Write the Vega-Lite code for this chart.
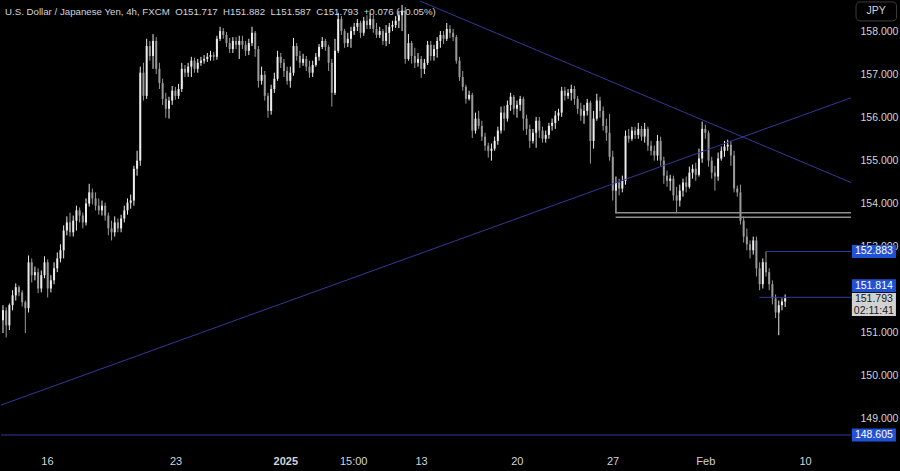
{
"$schema": "https://vega.github.io/schema/vega-lite/v6.json",
"width": 900, "height": 471,
"autosize": {"type": "fit", "contains": "padding"},
"padding": 0,
"background": "#000000",
"config": {"view": {"stroke": null}, "font": "Liberation Sans", "scale": {"continuousPadding": 0}},
"title": {"text": "U.S. Dollar / Japanese Yen, 4h, FXCM\u00a0\u00a0O151.717\u00a0\u00a0H151.882\u00a0\u00a0L151.587\u00a0\u00a0C151.793\u00a0\u00a0+0.076 (+0.05%)", "anchor": "start", "frame": "group", "orient": "top", "offset": -16, "dx": 4, "fontSize": 9.7, "fontWeight": "normal", "color": "#d1d4dc", "font": "Liberation Sans"},
"datasets": {
"candles": [
{"i":0,"o":151.28,"h":151.63,"l":150.98,"c":151.51},
{"i":1,"o":151.51,"h":151.58,"l":150.88,"c":151.16},
{"i":2,"o":151.16,"h":151.67,"l":151.05,"c":151.63},
{"i":3,"o":151.63,"h":151.98,"l":151.51,"c":151.86},
{"i":4,"o":151.86,"h":152.14,"l":151.74,"c":152.05},
{"i":5,"o":152.05,"h":152.09,"l":151.84,"c":151.93},
{"i":6,"o":151.93,"h":151.98,"l":151.60,"c":151.70},
{"i":7,"o":151.70,"h":151.74,"l":150.98,"c":151.56},
{"i":8,"o":151.56,"h":152.79,"l":151.46,"c":152.63},
{"i":9,"o":152.63,"h":152.72,"l":152.16,"c":152.33},
{"i":10,"o":152.33,"h":152.53,"l":152.21,"c":152.40},
{"i":11,"o":152.40,"h":152.49,"l":151.91,"c":152.02},
{"i":12,"o":152.02,"h":152.44,"l":151.93,"c":152.33},
{"i":13,"o":152.33,"h":152.77,"l":152.26,"c":152.63},
{"i":14,"o":152.63,"h":152.70,"l":151.81,"c":152.02},
{"i":15,"o":152.02,"h":152.33,"l":151.93,"c":152.21},
{"i":16,"o":152.21,"h":152.63,"l":152.12,"c":152.49},
{"i":17,"o":152.49,"h":152.86,"l":152.40,"c":152.72},
{"i":18,"o":152.72,"h":153.05,"l":152.63,"c":152.91},
{"i":19,"o":152.91,"h":153.49,"l":152.72,"c":153.37},
{"i":20,"o":153.37,"h":153.70,"l":153.26,"c":153.56},
{"i":21,"o":153.56,"h":153.79,"l":153.23,"c":153.33},
{"i":22,"o":153.33,"h":153.72,"l":153.23,"c":153.60},
{"i":23,"o":153.60,"h":153.95,"l":153.37,"c":153.84},
{"i":24,"o":153.84,"h":153.91,"l":153.56,"c":153.72},
{"i":25,"o":153.72,"h":153.79,"l":153.42,"c":153.56},
{"i":26,"o":153.56,"h":154.12,"l":153.49,"c":154.00},
{"i":27,"o":154.00,"h":154.46,"l":153.93,"c":154.26},
{"i":28,"o":154.26,"h":154.35,"l":153.98,"c":154.12},
{"i":29,"o":154.12,"h":154.26,"l":153.84,"c":153.95},
{"i":30,"o":153.95,"h":154.12,"l":153.74,"c":153.84},
{"i":31,"o":153.84,"h":154.07,"l":153.72,"c":153.95},
{"i":32,"o":153.95,"h":154.02,"l":153.60,"c":153.72},
{"i":33,"o":153.72,"h":153.79,"l":153.26,"c":153.42},
{"i":34,"o":153.42,"h":153.60,"l":153.14,"c":153.33},
{"i":35,"o":153.33,"h":153.70,"l":153.23,"c":153.56},
{"i":36,"o":153.56,"h":153.65,"l":153.33,"c":153.42},
{"i":37,"o":153.42,"h":153.74,"l":153.33,"c":153.65},
{"i":38,"o":153.65,"h":153.95,"l":153.56,"c":153.84},
{"i":39,"o":153.84,"h":154.12,"l":153.74,"c":154.02},
{"i":40,"o":154.02,"h":154.21,"l":153.88,"c":154.07},
{"i":41,"o":154.07,"h":154.88,"l":153.95,"c":154.81},
{"i":42,"o":154.81,"h":155.23,"l":154.65,"c":155.00},
{"i":43,"o":155.00,"h":157.19,"l":154.88,"c":157.05},
{"i":44,"o":157.05,"h":157.28,"l":156.40,"c":156.51},
{"i":45,"o":156.51,"h":157.84,"l":156.44,"c":157.67},
{"i":46,"o":157.67,"h":157.79,"l":157.33,"c":157.44},
{"i":47,"o":157.44,"h":157.95,"l":157.14,"c":157.79},
{"i":48,"o":157.79,"h":157.88,"l":157.02,"c":157.14},
{"i":49,"o":157.14,"h":157.28,"l":156.67,"c":156.81},
{"i":50,"o":156.81,"h":156.91,"l":156.30,"c":156.44},
{"i":51,"o":156.44,"h":156.58,"l":156.00,"c":156.21},
{"i":52,"o":156.21,"h":156.49,"l":155.98,"c":156.40},
{"i":53,"o":156.40,"h":156.74,"l":156.30,"c":156.63},
{"i":54,"o":156.63,"h":156.72,"l":156.42,"c":156.51},
{"i":55,"o":156.51,"h":156.79,"l":156.44,"c":156.67},
{"i":56,"o":156.67,"h":157.28,"l":156.60,"c":157.14},
{"i":57,"o":157.14,"h":157.23,"l":156.95,"c":157.05},
{"i":58,"o":157.05,"h":157.28,"l":156.95,"c":157.19},
{"i":59,"o":157.19,"h":157.42,"l":156.95,"c":157.33},
{"i":60,"o":157.33,"h":157.40,"l":157.05,"c":157.14},
{"i":61,"o":157.14,"h":157.37,"l":157.05,"c":157.28},
{"i":62,"o":157.28,"h":157.42,"l":157.21,"c":157.33},
{"i":63,"o":157.33,"h":157.46,"l":157.26,"c":157.37},
{"i":64,"o":157.37,"h":157.51,"l":157.30,"c":157.42},
{"i":65,"o":157.42,"h":157.56,"l":157.33,"c":157.46},
{"i":66,"o":157.46,"h":157.53,"l":157.33,"c":157.42},
{"i":67,"o":157.42,"h":157.91,"l":157.35,"c":157.84},
{"i":68,"o":157.84,"h":158.12,"l":157.79,"c":158.02},
{"i":69,"o":158.02,"h":158.09,"l":157.84,"c":157.93},
{"i":70,"o":157.93,"h":158.00,"l":157.65,"c":157.74},
{"i":71,"o":157.74,"h":157.86,"l":157.51,"c":157.60},
{"i":72,"o":157.60,"h":157.88,"l":157.51,"c":157.79},
{"i":73,"o":157.79,"h":157.88,"l":157.60,"c":157.70},
{"i":74,"o":157.70,"h":157.91,"l":157.37,"c":157.79},
{"i":75,"o":157.79,"h":157.91,"l":157.60,"c":157.70},
{"i":76,"o":157.70,"h":157.79,"l":157.44,"c":157.56},
{"i":77,"o":157.56,"h":157.84,"l":157.46,"c":157.74},
{"i":78,"o":157.74,"h":158.12,"l":157.67,"c":157.98},
{"i":79,"o":157.98,"h":158.02,"l":157.42,"c":157.60},
{"i":80,"o":157.60,"h":157.67,"l":156.70,"c":156.86},
{"i":81,"o":156.86,"h":157.19,"l":156.77,"c":157.00},
{"i":82,"o":157.00,"h":157.09,"l":156.40,"c":156.51},
{"i":83,"o":156.51,"h":156.58,"l":156.00,"c":156.16},
{"i":84,"o":156.16,"h":156.77,"l":156.07,"c":156.67},
{"i":85,"o":156.67,"h":157.05,"l":156.58,"c":156.91},
{"i":86,"o":156.91,"h":157.56,"l":156.86,"c":157.42},
{"i":87,"o":157.42,"h":157.51,"l":157.16,"c":157.28},
{"i":88,"o":157.28,"h":157.37,"l":156.95,"c":157.09},
{"i":89,"o":157.09,"h":157.19,"l":156.77,"c":156.86},
{"i":90,"o":156.86,"h":157.19,"l":156.70,"c":157.05},
{"i":91,"o":157.05,"h":157.86,"l":156.98,"c":157.67},
{"i":92,"o":157.67,"h":157.74,"l":157.33,"c":157.44},
{"i":93,"o":157.44,"h":157.56,"l":157.16,"c":157.28},
{"i":94,"o":157.28,"h":157.49,"l":157.21,"c":157.37},
{"i":95,"o":157.37,"h":157.44,"l":157.09,"c":157.19},
{"i":96,"o":157.19,"h":157.33,"l":156.93,"c":157.05},
{"i":97,"o":157.05,"h":157.33,"l":156.95,"c":157.23},
{"i":98,"o":157.23,"h":157.51,"l":157.19,"c":157.42},
{"i":99,"o":157.42,"h":157.72,"l":157.33,"c":157.65},
{"i":100,"o":157.65,"h":157.88,"l":157.60,"c":157.79},
{"i":101,"o":157.79,"h":157.84,"l":157.56,"c":157.65},
{"i":102,"o":157.65,"h":157.70,"l":157.09,"c":157.28},
{"i":103,"o":157.28,"h":157.37,"l":156.26,"c":156.58},
{"i":104,"o":156.58,"h":157.84,"l":156.53,"c":157.56},
{"i":105,"o":157.56,"h":158.44,"l":157.51,"c":158.30},
{"i":106,"o":158.30,"h":158.37,"l":157.93,"c":158.02},
{"i":107,"o":158.02,"h":158.07,"l":157.63,"c":157.74},
{"i":108,"o":157.74,"h":157.98,"l":157.65,"c":157.84},
{"i":109,"o":157.84,"h":158.12,"l":157.63,"c":158.02},
{"i":110,"o":158.02,"h":158.21,"l":157.93,"c":158.12},
{"i":111,"o":158.12,"h":158.30,"l":158.02,"c":158.21},
{"i":112,"o":158.21,"h":158.26,"l":157.86,"c":157.98},
{"i":113,"o":157.98,"h":158.35,"l":157.91,"c":158.26},
{"i":114,"o":158.26,"h":158.39,"l":158.07,"c":158.16},
{"i":115,"o":158.16,"h":158.44,"l":158.07,"c":158.30},
{"i":116,"o":158.30,"h":158.39,"l":157.98,"c":158.07},
{"i":117,"o":158.07,"h":158.21,"l":157.86,"c":157.93},
{"i":118,"o":157.93,"h":158.12,"l":157.86,"c":158.02},
{"i":119,"o":158.02,"h":158.07,"l":157.70,"c":157.79},
{"i":120,"o":157.79,"h":158.16,"l":157.67,"c":157.98},
{"i":121,"o":157.98,"h":158.21,"l":157.72,"c":158.12},
{"i":122,"o":158.12,"h":158.26,"l":158.02,"c":158.16},
{"i":123,"o":158.16,"h":158.37,"l":158.09,"c":158.26},
{"i":124,"o":158.26,"h":158.49,"l":158.09,"c":158.39},
{"i":125,"o":158.39,"h":158.63,"l":158.02,"c":158.49},
{"i":126,"o":158.49,"h":158.58,"l":157.26,"c":157.37},
{"i":127,"o":157.37,"h":157.95,"l":157.33,"c":157.74},
{"i":128,"o":157.74,"h":157.79,"l":157.26,"c":157.44},
{"i":129,"o":157.44,"h":157.63,"l":157.16,"c":157.28},
{"i":130,"o":157.28,"h":157.51,"l":157.19,"c":157.37},
{"i":131,"o":157.37,"h":157.44,"l":156.93,"c":157.14},
{"i":132,"o":157.14,"h":157.37,"l":157.02,"c":157.28},
{"i":133,"o":157.28,"h":157.79,"l":157.23,"c":157.70},
{"i":134,"o":157.70,"h":157.79,"l":157.33,"c":157.44},
{"i":135,"o":157.44,"h":157.70,"l":157.33,"c":157.60},
{"i":136,"o":157.60,"h":157.88,"l":157.40,"c":157.79},
{"i":137,"o":157.79,"h":158.02,"l":157.63,"c":157.93},
{"i":138,"o":157.93,"h":158.02,"l":157.72,"c":157.84},
{"i":139,"o":157.84,"h":158.21,"l":157.79,"c":158.07},
{"i":140,"o":158.07,"h":158.16,"l":157.86,"c":157.98},
{"i":141,"o":157.98,"h":158.07,"l":157.79,"c":157.88},
{"i":142,"o":157.88,"h":157.93,"l":157.26,"c":157.33},
{"i":143,"o":157.33,"h":157.42,"l":156.86,"c":156.95},
{"i":144,"o":156.95,"h":157.09,"l":156.63,"c":156.72},
{"i":145,"o":156.72,"h":156.77,"l":156.33,"c":156.44},
{"i":146,"o":156.44,"h":156.63,"l":156.40,"c":156.53},
{"i":147,"o":156.53,"h":156.58,"l":155.53,"c":155.70},
{"i":148,"o":155.70,"h":156.12,"l":155.63,"c":155.98},
{"i":149,"o":155.98,"h":156.16,"l":155.74,"c":155.81},
{"i":150,"o":155.81,"h":155.93,"l":155.46,"c":155.56},
{"i":151,"o":155.56,"h":155.65,"l":155.23,"c":155.35},
{"i":152,"o":155.35,"h":155.42,"l":155.07,"c":155.23},
{"i":153,"o":155.23,"h":155.40,"l":155.00,"c":155.28},
{"i":154,"o":155.28,"h":155.56,"l":155.23,"c":155.46},
{"i":155,"o":155.46,"h":155.79,"l":155.37,"c":155.70},
{"i":156,"o":155.70,"h":156.26,"l":155.63,"c":156.12},
{"i":157,"o":156.12,"h":156.28,"l":155.70,"c":155.98},
{"i":158,"o":155.98,"h":156.40,"l":155.91,"c":156.30},
{"i":159,"o":156.30,"h":156.58,"l":156.16,"c":156.49},
{"i":160,"o":156.49,"h":156.53,"l":156.07,"c":156.21},
{"i":161,"o":156.21,"h":156.40,"l":156.00,"c":156.30},
{"i":162,"o":156.30,"h":156.51,"l":156.16,"c":156.44},
{"i":163,"o":156.44,"h":156.49,"l":155.70,"c":155.98},
{"i":164,"o":155.98,"h":156.07,"l":155.60,"c":155.74},
{"i":165,"o":155.74,"h":155.84,"l":155.30,"c":155.46},
{"i":166,"o":155.46,"h":155.74,"l":155.40,"c":155.65},
{"i":167,"o":155.65,"h":156.02,"l":155.30,"c":155.93},
{"i":168,"o":155.93,"h":156.02,"l":155.53,"c":155.70},
{"i":169,"o":155.70,"h":155.79,"l":155.42,"c":155.51},
{"i":170,"o":155.51,"h":155.70,"l":155.42,"c":155.60},
{"i":171,"o":155.60,"h":155.88,"l":155.51,"c":155.81},
{"i":172,"o":155.81,"h":155.98,"l":155.70,"c":155.88},
{"i":173,"o":155.88,"h":156.16,"l":155.74,"c":156.05},
{"i":174,"o":156.05,"h":156.21,"l":155.93,"c":156.12},
{"i":175,"o":156.12,"h":156.72,"l":156.02,"c":156.63},
{"i":176,"o":156.63,"h":156.72,"l":156.40,"c":156.51},
{"i":177,"o":156.51,"h":156.67,"l":156.44,"c":156.58},
{"i":178,"o":156.58,"h":156.77,"l":156.40,"c":156.67},
{"i":179,"o":156.67,"h":156.74,"l":156.30,"c":156.44},
{"i":180,"o":156.44,"h":156.51,"l":156.09,"c":156.21},
{"i":181,"o":156.21,"h":156.35,"l":155.93,"c":156.05},
{"i":182,"o":156.05,"h":156.30,"l":155.86,"c":156.16},
{"i":183,"o":156.16,"h":156.44,"l":156.05,"c":156.35},
{"i":184,"o":156.35,"h":156.40,"l":154.93,"c":155.46},
{"i":185,"o":155.46,"h":156.16,"l":155.28,"c":155.98},
{"i":186,"o":155.98,"h":156.56,"l":155.93,"c":156.40},
{"i":187,"o":156.40,"h":156.49,"l":156.00,"c":156.16},
{"i":188,"o":156.16,"h":156.26,"l":155.70,"c":155.81},
{"i":189,"o":155.81,"h":155.98,"l":155.46,"c":155.65},
{"i":190,"o":155.65,"h":156.09,"l":155.00,"c":155.09},
{"i":191,"o":155.09,"h":155.23,"l":154.07,"c":154.30},
{"i":192,"o":154.30,"h":154.63,"l":153.77,"c":154.49},
{"i":193,"o":154.49,"h":154.58,"l":154.19,"c":154.35},
{"i":194,"o":154.35,"h":154.65,"l":154.26,"c":154.53},
{"i":195,"o":154.53,"h":155.70,"l":154.44,"c":155.58},
{"i":196,"o":155.58,"h":155.74,"l":155.42,"c":155.51},
{"i":197,"o":155.51,"h":155.79,"l":155.46,"c":155.70},
{"i":198,"o":155.70,"h":155.79,"l":155.51,"c":155.60},
{"i":199,"o":155.60,"h":155.88,"l":155.51,"c":155.74},
{"i":200,"o":155.74,"h":155.81,"l":155.46,"c":155.56},
{"i":201,"o":155.56,"h":155.88,"l":155.42,"c":155.74},
{"i":202,"o":155.74,"h":155.79,"l":155.23,"c":155.35},
{"i":203,"o":155.35,"h":155.46,"l":155.12,"c":155.23},
{"i":204,"o":155.23,"h":155.35,"l":155.00,"c":155.12},
{"i":205,"o":155.12,"h":155.60,"l":155.00,"c":155.46},
{"i":206,"o":155.46,"h":155.56,"l":154.88,"c":155.00},
{"i":207,"o":155.00,"h":155.09,"l":154.46,"c":154.65},
{"i":208,"o":154.65,"h":154.77,"l":154.39,"c":154.53},
{"i":209,"o":154.53,"h":154.67,"l":154.30,"c":154.58},
{"i":210,"o":154.58,"h":154.65,"l":154.07,"c":154.19},
{"i":211,"o":154.19,"h":154.39,"l":153.79,"c":154.07},
{"i":212,"o":154.07,"h":154.44,"l":153.93,"c":154.30},
{"i":213,"o":154.30,"h":154.58,"l":154.16,"c":154.49},
{"i":214,"o":154.49,"h":154.63,"l":154.26,"c":154.39},
{"i":215,"o":154.39,"h":154.86,"l":154.35,"c":154.72},
{"i":216,"o":154.72,"h":154.91,"l":154.58,"c":154.81},
{"i":217,"o":154.81,"h":154.95,"l":154.53,"c":154.67},
{"i":218,"o":154.67,"h":155.28,"l":154.63,"c":155.05},
{"i":219,"o":155.05,"h":155.91,"l":154.95,"c":155.74},
{"i":220,"o":155.74,"h":155.84,"l":155.51,"c":155.65},
{"i":221,"o":155.65,"h":155.70,"l":154.86,"c":155.00},
{"i":222,"o":155.00,"h":155.09,"l":154.58,"c":154.72},
{"i":223,"o":154.72,"h":154.88,"l":154.30,"c":154.63},
{"i":224,"o":154.63,"h":155.19,"l":154.53,"c":155.05},
{"i":225,"o":155.05,"h":155.33,"l":155.00,"c":155.23},
{"i":226,"o":155.23,"h":155.46,"l":155.09,"c":155.33},
{"i":227,"o":155.33,"h":155.49,"l":155.23,"c":155.37},
{"i":228,"o":155.37,"h":155.46,"l":154.88,"c":155.12},
{"i":229,"o":155.12,"h":155.23,"l":154.26,"c":154.35},
{"i":230,"o":154.35,"h":154.42,"l":154.16,"c":154.26},
{"i":231,"o":154.26,"h":154.44,"l":153.51,"c":153.60},
{"i":232,"o":153.60,"h":153.70,"l":153.09,"c":153.23},
{"i":233,"o":153.23,"h":153.42,"l":152.91,"c":153.05},
{"i":234,"o":153.05,"h":153.14,"l":152.72,"c":152.91},
{"i":235,"o":152.91,"h":153.23,"l":152.81,"c":153.14},
{"i":236,"o":153.14,"h":153.23,"l":152.30,"c":152.49},
{"i":237,"o":152.49,"h":152.63,"l":151.98,"c":152.12},
{"i":238,"o":152.12,"h":152.72,"l":152.02,"c":152.63},
{"i":239,"o":152.63,"h":152.883,"l":152.30,"c":152.40},
{"i":240,"o":152.40,"h":152.49,"l":151.98,"c":152.12},
{"i":241,"o":152.12,"h":152.21,"l":151.65,"c":151.79},
{"i":242,"o":151.79,"h":151.88,"l":151.33,"c":151.46},
{"i":243,"o":151.46,"h":151.74,"l":150.93,"c":151.63},
{"i":244,"o":151.63,"h":151.79,"l":151.51,"c":151.717},
{"i":245,"o":151.717,"h":151.882,"l":151.587,"c":151.793}
],
"trends": [
{"x1":-0.625,"p1":149.302,"x2":265.625,"p2":156.465},
{"x1":130.6,"p1":158.721,"x2":265.625,"p2":154.49}
],
"bluelevels": [
{"x1":239.06,"x2":265.625,"p":152.883},
{"x1":236.9,"x2":265.625,"p":151.814},
{"x1":-0.625,"x2":265.625,"p":148.605}
],
"greylevels": [
{"x1":191.9,"x2":265.625,"p":153.784},
{"x1":191.9,"x2":265.625,"p":153.681}
],
"tags": [
{"p":152.883,"t":"152.883"},
{"p":148.605,"t":"148.605"}
]
},
"layer": [
{
"data": {"name": "candles"},
"mark": {"type": "rule", "strokeWidth": 1},
"encoding": {
"x": {"field": "i", "type": "quantitative", "title": null, "scale": {"domain": [-0.625, 265.625], "nice": false, "zero": false, "padding": 0},
"axis": {"orient": "bottom", "title": null, "grid": false, "domain": false, "ticks": false, "labelPadding": 7, "labelFontSize": 11, "labelColor": "#d1d4dc", "labelFont": "Liberation Sans", "labelOverlap": false, "labelFlush": false, "minExtent": 23, "maxExtent": 23,
"values": [13.75, 54.06, 88.44, 109.69, 130.94, 160.94, 190.94, 220, 251.25],
"labelExpr": "datum.value < 30 ? '16' : datum.value < 70 ? '23' : datum.value < 100 ? '2025' : datum.value < 120 ? '15:00' : datum.value < 140 ? '13' : datum.value < 170 ? '20' : datum.value < 200 ? '27' : datum.value < 230 ? 'Feb' : '10'",
"labelFontWeight": {"condition": {"test": "datum.value > 80 && datum.value < 100", "value": "bold"}, "value": "normal"}}},
"y": {"field": "l", "type": "quantitative", "title": null, "scale": {"domain": [148.302, 158.721], "nice": false, "zero": false, "padding": 0},
"axis": {"orient": "right", "title": null, "grid": false, "domain": false, "ticks": false, "labelPadding": 9, "labelFontSize": 10.5, "labelColor": "#d1d4dc", "labelFont": "Liberation Sans", "format": ".3f", "values": [149, 150, 151, 153, 154, 155, 156, 157, 158], "labelOverlap": false, "labelFlush": false, "minExtent": 48, "maxExtent": 48}},
"y2": {"field": "h"},
"color": {"condition": {"test": "datum.c >= datum.o", "value": "#ececec"}, "value": "#9a9a9a"}
}
},
{
"data": {"name": "candles"},
"mark": {"type": "bar", "size": 2, "orient": "vertical"},
"encoding": {
"x": {"field": "i", "type": "quantitative", "title": null},
"y": {"field": "o", "type": "quantitative", "title": null},
"y2": {"field": "c"},
"color": {"condition": {"test": "datum.c >= datum.o", "value": "#ececec"}, "value": "#9a9a9a"}
}
},
{
"data": {"name": "trends"},
"mark": {"type": "rule", "strokeWidth": 1, "color": "#34399a"},
"encoding": {
"x": {"field": "x1", "type": "quantitative", "title": null},
"x2": {"field": "x2"},
"y": {"field": "p1", "type": "quantitative", "title": null},
"y2": {"field": "p2"}
}
},
{
"data": {"name": "bluelevels"},
"mark": {"type": "rule", "strokeWidth": 1, "color": "#2f3d9c"},
"encoding": {
"x": {"field": "x1", "type": "quantitative", "title": null},
"x2": {"field": "x2"},
"y": {"field": "p", "type": "quantitative", "title": null}
}
},
{
"data": {"name": "greylevels"},
"mark": {"type": "rule", "strokeWidth": 1.5, "color": "#8e8e8e"},
"encoding": {
"x": {"field": "x1", "type": "quantitative", "title": null},
"x2": {"field": "x2"},
"y": {"field": "p", "type": "quantitative", "title": null}
}
},
{
"data": {"name": "tags"},
"mark": {"type": "bar", "size": 13, "color": "#2152d4", "orient": "horizontal"},
"encoding": {
"x": {"datum": 265.9, "type": "quantitative", "title": null},
"x2": {"datum": 279.7},
"y": {"field": "p", "type": "quantitative", "title": null}
}
},
{
"data": {"name": "tags"},
"mark": {"type": "text", "color": "#ffffff", "fontSize": 10.5, "font": "Liberation Sans", "align": "center", "baseline": "middle"},
"encoding": {
"x": {"datum": 272.8, "type": "quantitative", "title": null},
"y": {"field": "p", "type": "quantitative", "title": null},
"text": {"field": "t"}
}
},
{
"data": {"values": [{"t": "151.814"}]},
"layer": [
{"mark": {"type": "bar", "size": 13, "color": "#2152d4", "orient": "horizontal"},
"encoding": {
"x": {"datum": 265.9, "type": "quantitative", "title": null},
"x2": {"datum": 279.7},
"y": {"datum": 152.081, "type": "quantitative", "title": null}
}},
{"mark": {"type": "text", "color": "#ffffff", "fontSize": 10.5, "font": "Liberation Sans", "align": "center", "baseline": "middle"},
"encoding": {
"x": {"datum": 272.8, "type": "quantitative", "title": null},
"y": {"datum": 152.081, "type": "quantitative", "title": null},
"text": {"field": "t"}
}}
]
},
{
"data": {"values": [{"t": "151.793", "u": "02:11:41"}]},
"layer": [
{"mark": {"type": "bar", "size": 23, "color": "#d2d2d2", "orient": "horizontal"},
"encoding": {
"x": {"datum": 265.9, "type": "quantitative", "title": null},
"x2": {"datum": 279.7},
"y": {"datum": 151.645, "type": "quantitative", "title": null}
}},
{"mark": {"type": "text", "color": "#1a1a1a", "fontSize": 10.5, "font": "Liberation Sans", "align": "center", "baseline": "middle"},
"encoding": {
"x": {"datum": 272.8, "type": "quantitative", "title": null},
"y": {"datum": 151.77, "type": "quantitative", "title": null},
"text": {"field": "t"}
}},
{"mark": {"type": "text", "color": "#1a1a1a", "fontSize": 10.5, "font": "Liberation Sans", "align": "center", "baseline": "middle"},
"encoding": {
"x": {"datum": 272.8, "type": "quantitative", "title": null},
"y": {"datum": 151.49, "type": "quantitative", "title": null},
"text": {"field": "u"}
}}
]
},
{
"data": {"values": [{"t": "JPY"}]},
"layer": [
{"mark": {"type": "bar", "size": 19, "color": "#000000", "stroke": "#3d3d3d", "strokeWidth": 1, "cornerRadius": 4, "orient": "horizontal"},
"encoding": {
"x": {"datum": 267.2, "type": "quantitative", "title": null},
"x2": {"datum": 279.9},
"y": {"datum": 158.477, "type": "quantitative", "title": null}
}},
{"mark": {"type": "text", "color": "#d1d4dc", "fontSize": 10.5, "font": "Liberation Sans", "align": "center", "baseline": "middle"},
"encoding": {
"x": {"datum": 273.5, "type": "quantitative", "title": null},
"y": {"datum": 158.477, "type": "quantitative", "title": null},
"text": {"field": "t"}
}}
]
}
]
}
